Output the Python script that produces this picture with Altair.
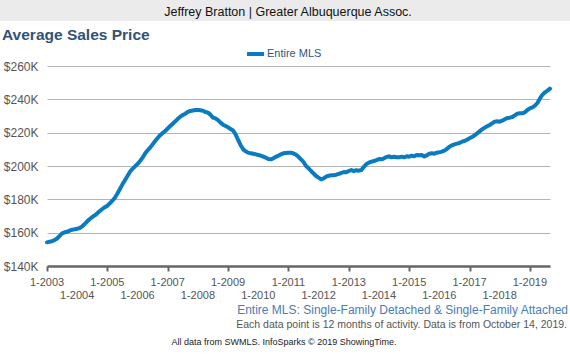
import altair as alt
import pandas as pd

# Average sales price ($K), monthly, Jan 2003 - Sep 2019 (rolling 12 months)
p2003 = [154.2, 154.6, 154.9, 155.5, 156.5, 158.0, 159.6, 160.2, 160.5, 161.2, 161.8, 162.0]
p2004 = [162.3, 162.8, 163.8, 165.2, 166.8, 168.2, 169.4, 170.4, 171.6, 173.0, 174.2, 175.3]
p2005 = [176.2, 177.6, 179.2, 181.0, 183.5, 186.2, 189.0, 191.5, 194.0, 196.5, 198.3, 199.8]
p2006 = [201.2, 203.0, 205.0, 207.5, 209.4, 211.0, 213.0, 215.0, 216.8, 218.5, 219.8, 221.0]
p2007 = [222.5, 224.0, 225.4, 226.8, 228.3, 229.6, 230.6, 231.4, 232.5, 233.0, 233.3, 233.6]
p2008 = [233.6, 233.4, 233.2, 232.4, 232.0, 230.8, 229.0, 228.6, 227.5, 226.0, 224.8, 224.0]
p2009 = [223.2, 222.2, 221.3, 219.0, 215.6, 212.5, 210.0, 208.8, 208.0, 207.6, 207.3, 207.0]
p2010 = [206.6, 206.2, 205.6, 205.0, 204.2, 204.0, 204.6, 205.5, 206.2, 207.0, 207.6, 207.8]
p2011 = [208.0, 208.0, 207.5, 206.8, 205.5, 204.0, 202.4, 200.0, 198.6, 197.0, 195.5, 194.0]
p2012 = [193.0, 192.0, 192.6, 193.6, 194.2, 194.4, 194.5, 194.8, 195.3, 195.8, 196.4, 196.2]
p2013 = [197.0, 197.6, 196.9, 197.5, 197.2, 197.6, 199.5, 201.2, 202.0, 202.6, 203.0, 203.5]
p2014 = [204.2, 204.0, 204.6, 205.4, 205.8, 205.2, 205.6, 205.3, 205.2, 205.6, 205.2, 205.8]
p2015 = [205.6, 206.2, 205.8, 206.6, 206.4, 206.6, 205.7, 206.4, 207.4, 207.6, 207.4, 208.0]
p2016 = [208.2, 208.6, 209.2, 210.2, 211.6, 212.4, 213.0, 213.4, 213.8, 214.6, 215.0, 215.8]
p2017 = [216.6, 217.4, 218.4, 219.6, 220.8, 222.0, 223.0, 223.8, 224.6, 225.6, 226.6, 226.8]
p2018 = [226.6, 227.2, 228.0, 228.8, 229.0, 229.4, 230.4, 231.4, 231.6, 231.6, 232.2, 233.6]
p2019 = [234.6, 235.2, 236.2, 237.8, 240.6, 242.8, 244.2, 245.2, 246.4]

years_data = [p2003, p2004, p2005, p2006, p2007, p2008, p2009, p2010, p2011,
              p2012, p2013, p2014, p2015, p2016, p2017, p2018, p2019]
start_year = 2003

tick_years = list(range(2003, 2020))
y_ticks = [140, 160, 180, 200, 220, 240, 260]

rows = []
for i, vals in enumerate(years_data):
    for m, v in enumerate(vals):
        rows.append({"t": start_year + i + m / 12.0, "price": v})
df = pd.DataFrame(rows)

FONT = "Liberation Sans"
x_dom = [2003, 2019 + 8 / 12.0]
xs = alt.Scale(domain=x_dom, nice=False, zero=False)
ys = alt.Scale(domain=[140, 260], nice=False, zero=False)

W, H = 503, 200
PL, PT = 47, 66

line = alt.Chart(df).mark_line(color="#0a7bc1", strokeWidth=4, strokeJoin="round", strokeCap="round").encode(
    x=alt.X("t:Q", scale=xs, axis=alt.Axis(values=tick_years, labels=False, grid=False, ticks=True,
                                           tickSize=5, tickColor="#666666", tickWidth=2,
                                           domainColor="#666666", domainWidth=2.5, title=None)),
    y=alt.Y("price:Q", scale=ys, axis=alt.Axis(values=y_ticks, labelExpr="'$' + datum.value + 'K'",
                                               grid=True, gridColor="#b4b4b4", gridWidth=1,
                                               domain=False, ticks=False, labelPadding=9,
                                               labelFontSize=12, labelColor="#555555", labelFont=FONT,
                                               title=None)),
)

lab_df = pd.DataFrame({"year": tick_years, "label": ["1-" + str(y) for y in tick_years]})
lab_df["row"] = [(y - 2003) % 2 for y in tick_years]

xlab_odd = alt.Chart(lab_df).transform_filter("datum.row == 0").mark_text(
    font=FONT, fontSize=11, color="#555555", baseline="middle", align="center").encode(
    x=alt.X("year:Q", scale=xs), text="label:N", y=alt.value(283 - PT))
xlab_even = alt.Chart(lab_df).transform_filter("datum.row == 1").mark_text(
    font=FONT, fontSize=11, color="#555555", baseline="middle", align="center").encode(
    x=alt.X("year:Q", scale=xs), text="label:N", y=alt.value(295.5 - PT))


def txt(s, x, y, size, color, align="left", weight="normal"):
    return alt.Chart(pd.DataFrame({"s": [s]})).mark_text(
        font=FONT, fontSize=size, color=color, align=align, baseline="middle", fontWeight=weight
    ).encode(text="s:N", x=alt.value(x), y=alt.value(y))


header_bar = alt.Chart(pd.DataFrame({"a": [0]})).mark_rect(color="#ebebeb").encode(
    x=alt.value(-PL), x2=alt.value(570 - PL), y=alt.value(-PT), y2=alt.value(21 - PT))
legend_sw = alt.Chart(pd.DataFrame({"a": [0]})).mark_rect(color="#0a7bc1").encode(
    x=alt.value(247 - PL), x2=alt.value(264 - PL), y=alt.value(52 - PT), y2=alt.value(56 - PT))

layers = [
    header_bar,
    txt("Jeffrey Bratton | Greater Albuquerque Assoc.", 288 - PL, 12 - PT, 12.5, "#111111", align="center"),
    txt("Average Sales Price", 2 - PL, 35 - PT, 15.5, "#2f5378", weight="bold"),
    legend_sw,
    txt("Entire MLS", 267 - PL, 54 - PT, 11, "#33557a"),
    line,
    xlab_odd,
    xlab_even,
    txt("Entire MLS: Single-Family Detached & Single-Family Attached", 568 - PL, 309.5 - PT, 12, "#4a7db5", align="right"),
    txt("Each data point is 12 months of activity. Data is from October 14, 2019.", 567 - PL, 324.5 - PT, 10.5, "#555555", align="right"),
    txt("All data from SWMLS. InfoSparks \u00a9 2019 ShowingTime.", 284 - PL, 342 - PT, 9, "#222222", align="center"),
]

chart = alt.layer(*layers).properties(
    width=W, height=H,
    autosize=alt.AutoSizeParams(type="none"),
    padding={"left": PL, "top": PT, "right": 570 - PL - W, "bottom": 354 - PT - H},
    background="white",
).configure_view(stroke=None)

chart.save("out.html", embed_options={"renderer": "svg", "actions": False})
